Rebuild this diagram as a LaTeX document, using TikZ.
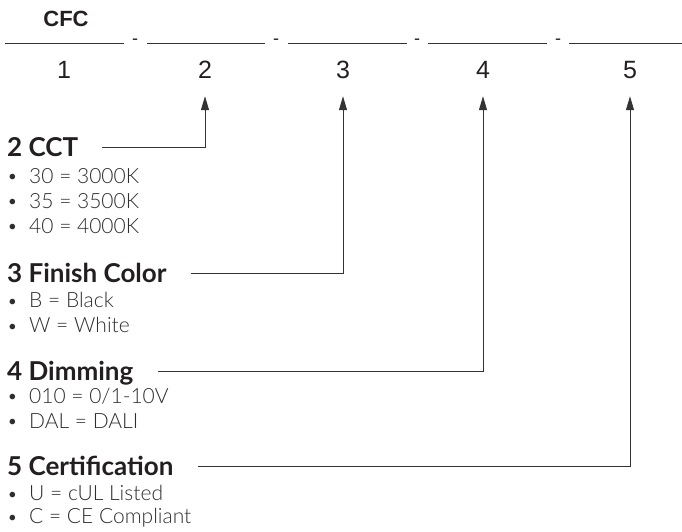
\documentclass[tikz,border=0pt]{standalone}
\usepackage{fontspec}
\setmainfont{Lato}
\newfontfamily\arialfont{Liberation Sans}
\newfontfamily\lightfont{Lato Light}
\usetikzlibrary{arrows.meta}

\definecolor{ink}{HTML}{231F20}
\definecolor{itemgray}{HTML}{2E2E2E}
\definecolor{rulegray}{HTML}{333333}

\newcommand{\optdot}{\makebox[21pt][l]{\raisebox{1.5pt}{\rmfamily\fontsize{15}{15}\selectfont\textbullet}}}

\begin{document}
\begin{tikzpicture}[x=1pt, y=-1pt,
    digit/.style={inner sep=0pt, text height=18pt, text depth=0pt, text=ink,
        font=\arialfont\fontsize{25}{25}\selectfont},
    heading/.style={anchor=west, inner sep=0pt, text height=19pt, text depth=0pt, text=ink,
        font=\bfseries\fontsize{26}{26}\selectfont},
    option/.style={anchor=west, inner sep=0pt, text=itemgray,
        font=\lightfont\fontsize{21}{21}\selectfont},
    blank/.style={draw=rulegray, line width=1pt},
    pointer/.style={draw=rulegray, line width=1pt, -{Triangle[length=14pt,width=8pt]},
        shorten <=24pt, shorten >=18pt}
]
\useasboundingbox (0,0) rectangle (682,531);
% Part number template
\node[inner sep=0pt, text=ink, font=\arialfont\bfseries\fontsize{22}{22}\selectfont] (prefix) at (66,19) {CFC};
\foreach \a/\b in {5/124, 147/265, 288/407, 428/547, 569/682}
    \draw[blank] (\a,43) -- (\b,43);
\foreach \x in {135, 276, 417, 558}
    \node[anchor=base, inner sep=0pt, text=ink, font=\arialfont\fontsize{18}{18}\selectfont] at (\x,44) {-};
% Position numbers
\node[digit] (n1) at (64,69) {1};
\node[digit] (n2) at (205,69) {2};
\node[digit] (n3) at (343,69) {3};
\node[digit] (n4) at (483,69) {4};
\node[digit] (n5) at (630,69) {5};
% 2 CCT
\node[heading] (cct) at (7,147) {2 CCT};
\node[option] (cct30) at (8,176) {\optdot 30 = 3000K};
\node[option] (cct35) at (8,201) {\optdot 35 = 3500K};
\node[option] (cct40) at (8,226) {\optdot 40 = 4000K};
% 3 Finish Color
\node[heading] (finish) at (7,273) {3 Finish Color};
\node[option] (finB) at (8,300) {\optdot B = Black};
\node[option] (finW) at (8,325) {\optdot W = White};
% 4 Dimming
\node[heading] (dimming) at (7,371) {4 Dimming};
\node[option] (dim010) at (8,396) {\optdot 010 = 0/1-10V};
\node[option] (dimDAL) at (8,421) {\optdot DAL = DALI};
% 5 Certification
\node[heading] (cert) at (7,466) {5 Certification};
\node[option] (certU) at (8,493) {\optdot U = cUL Listed};
\node[option] (certC) at (8,518) {\optdot C = CE Compliant};
% Arrows
\draw[pointer] (cct.east) -| (n2.south);
\draw[pointer] (finish.east) -| (n3.south);
\draw[pointer] (dimming.east) -| (n4.south);
\draw[pointer] (cert.east) -| (n5.south);
\end{tikzpicture}
\end{document}
